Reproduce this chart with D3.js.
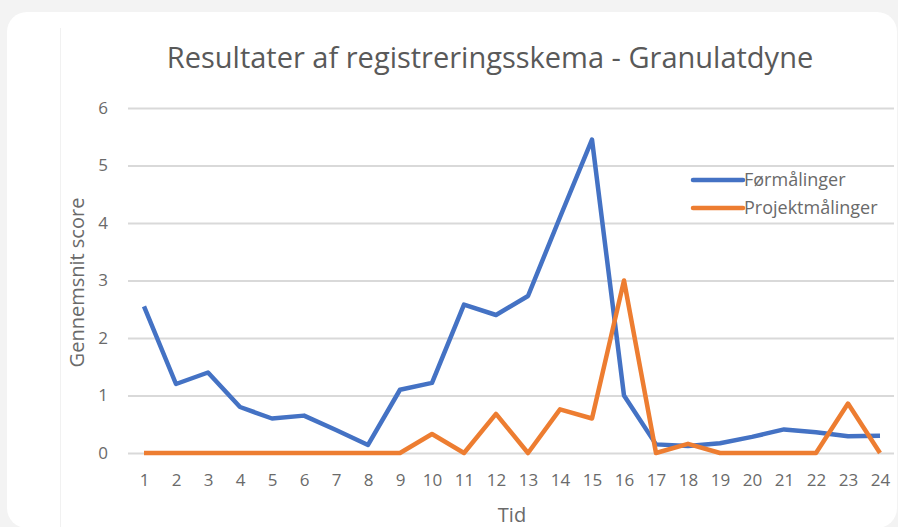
<!DOCTYPE html>
<html>
<head>
<meta charset="utf-8">
<script src="https://cdn.jsdelivr.net/npm/d3@7"></script>
<style>
	html, body { margin: 0; padding: 0; background: #f3f3f3; }
	svg { display: block; font-family: 'Open Sans', sans-serif; }
</style>
</head>
<body>
<div id="chart"></div>
<script>
// data
const tid = d3.range(1, 25);
const formaalinger = [2.55, 1.2, 1.4, 0.8, 0.6, 0.65, 0.4, 0.14, 1.1, 1.22, 2.58, 2.4, 2.73, 4.1, 5.45, 1.0, 0.15, 0.12, 0.17, 0.28, 0.41, 0.36, 0.29, 0.3];
const projektmaalinger = [0, 0, 0, 0, 0, 0, 0, 0, 0, 0.33, 0, 0.68, 0, 0.76, 0.6, 3.0, 0, 0.16, 0, 0, 0, 0, 0.86, 0];
const yTickValues = [0, 1, 2, 3, 4, 5, 6];
const seriesNames = ['Førmålinger', 'Projektmålinger'];
const colours = ['#4472c4', '#ed7d31'];

const width = 898;
const height = 527;
const margin = { top: 108, right: 2, bottom: 74, left: 128 };
const labelColour = '#6a6a6a';

const svg = d3.select('#chart')
	.append('svg')
	.attr('width', width)
	.attr('height', height);

// card
svg.append('rect')
	.attr('x', 7)
	.attr('y', 12)
	.attr('width', 890)
	.attr('height', 516)
	.attr('rx', 20)
	.attr('fill', '#ffffff');

// faint edge of the pasted image
svg.append('line')
	.attr('x1', 60.5).attr('x2', 60.5)
	.attr('y1', 28).attr('y2', 527)
	.attr('stroke', '#f1f1f1')
	.attr('stroke-width', 1);

const x = d3.scalePoint()
	.domain(tid)
	.range([margin.left, width - margin.right])
	.padding(0.5);

const y = d3.scaleLinear()
	.domain([0, 6])
	.range([height - margin.bottom, margin.top]);

// gridlines
svg.append('g')
	.attr('class', 'gridline')
	.attr('transform', `translate(${margin.left},0)`)
	.call(d3.axisLeft(y)
		.tickValues(yTickValues)
		.tickSize(-(width - margin.left - margin.right - 2))
		.tickFormat('')
	)
	.call(g => g.select('.domain').remove())
	.call(g => g.selectAll('line').attr('stroke', '#d9d9d9').attr('stroke-width', 2));

// y axis labels
svg.append('g')
	.attr('transform', `translate(${margin.left - 17},0)`)
	.call(d3.axisLeft(y).tickValues(yTickValues).tickSize(0).tickFormat(d3.format('d')))
	.call(g => g.select('.domain').remove())
	.call(g => g.selectAll('text')
		.attr('fill', labelColour)
		.style('font-size', '17px')
		.style('font-family', "'Open Sans', sans-serif"));

// x axis labels
svg.append('g')
	.attr('transform', `translate(0,${height - margin.bottom})`)
	.call(d3.axisBottom(x).tickSize(0).tickPadding(21))
	.call(g => g.select('.domain').remove())
	.call(g => g.selectAll('text')
		.attr('fill', labelColour)
		.style('font-size', '17px')
		.style('font-family', "'Open Sans', sans-serif"));

// lines
const line = d3.line()
	.x((d, i) => x(tid[i]))
	.y(d => y(d));

[formaalinger, projektmaalinger].forEach((values, i) => {
	svg.append('path')
		.datum(values)
		.attr('fill', 'none')
		.attr('stroke', colours[i])
		.attr('stroke-width', 4.5)
		.attr('stroke-linejoin', 'round')
		.attr('d', line);
});

// title
svg.append('text')
	.attr('x', 490)
	.attr('y', 68)
	.attr('text-anchor', 'middle')
	.attr('fill', '#595959')
	.style('font-size', '29px')
	.text('Resultater af registreringsskema - Granulatdyne');

// axis titles
svg.append('text')
	.attr('x', (margin.left + width - margin.right) / 2)
	.attr('y', 522)
	.attr('text-anchor', 'middle')
	.attr('fill', labelColour)
	.style('font-size', '20px')
	.text('Tid');

svg.append('text')
	.attr('transform', `translate(84,${(y(0) + y(6)) / 2 + 2}) rotate(-90)`)
	.attr('text-anchor', 'middle')
	.attr('fill', labelColour)
	.style('font-size', '20px')
	.text('Gennemsnit score');

// legend
const legend = svg.append('g')
	.attr('transform', 'translate(693,180)');

seriesNames.forEach((name, i) => {
	const row = legend.append('g')
		.attr('transform', `translate(0,${i * 28})`);
	row.append('line')
		.attr('x1', 0).attr('x2', 50)
		.attr('stroke', colours[i])
		.attr('stroke-width', 4.5)
		.attr('stroke-linecap', 'round');
	row.append('text')
		.attr('x', 51)
		.attr('dy', '0.35em')
		.attr('fill', labelColour)
		.style('font-size', '18px')
		.text(name);
});
</script>
</body>
</html>
